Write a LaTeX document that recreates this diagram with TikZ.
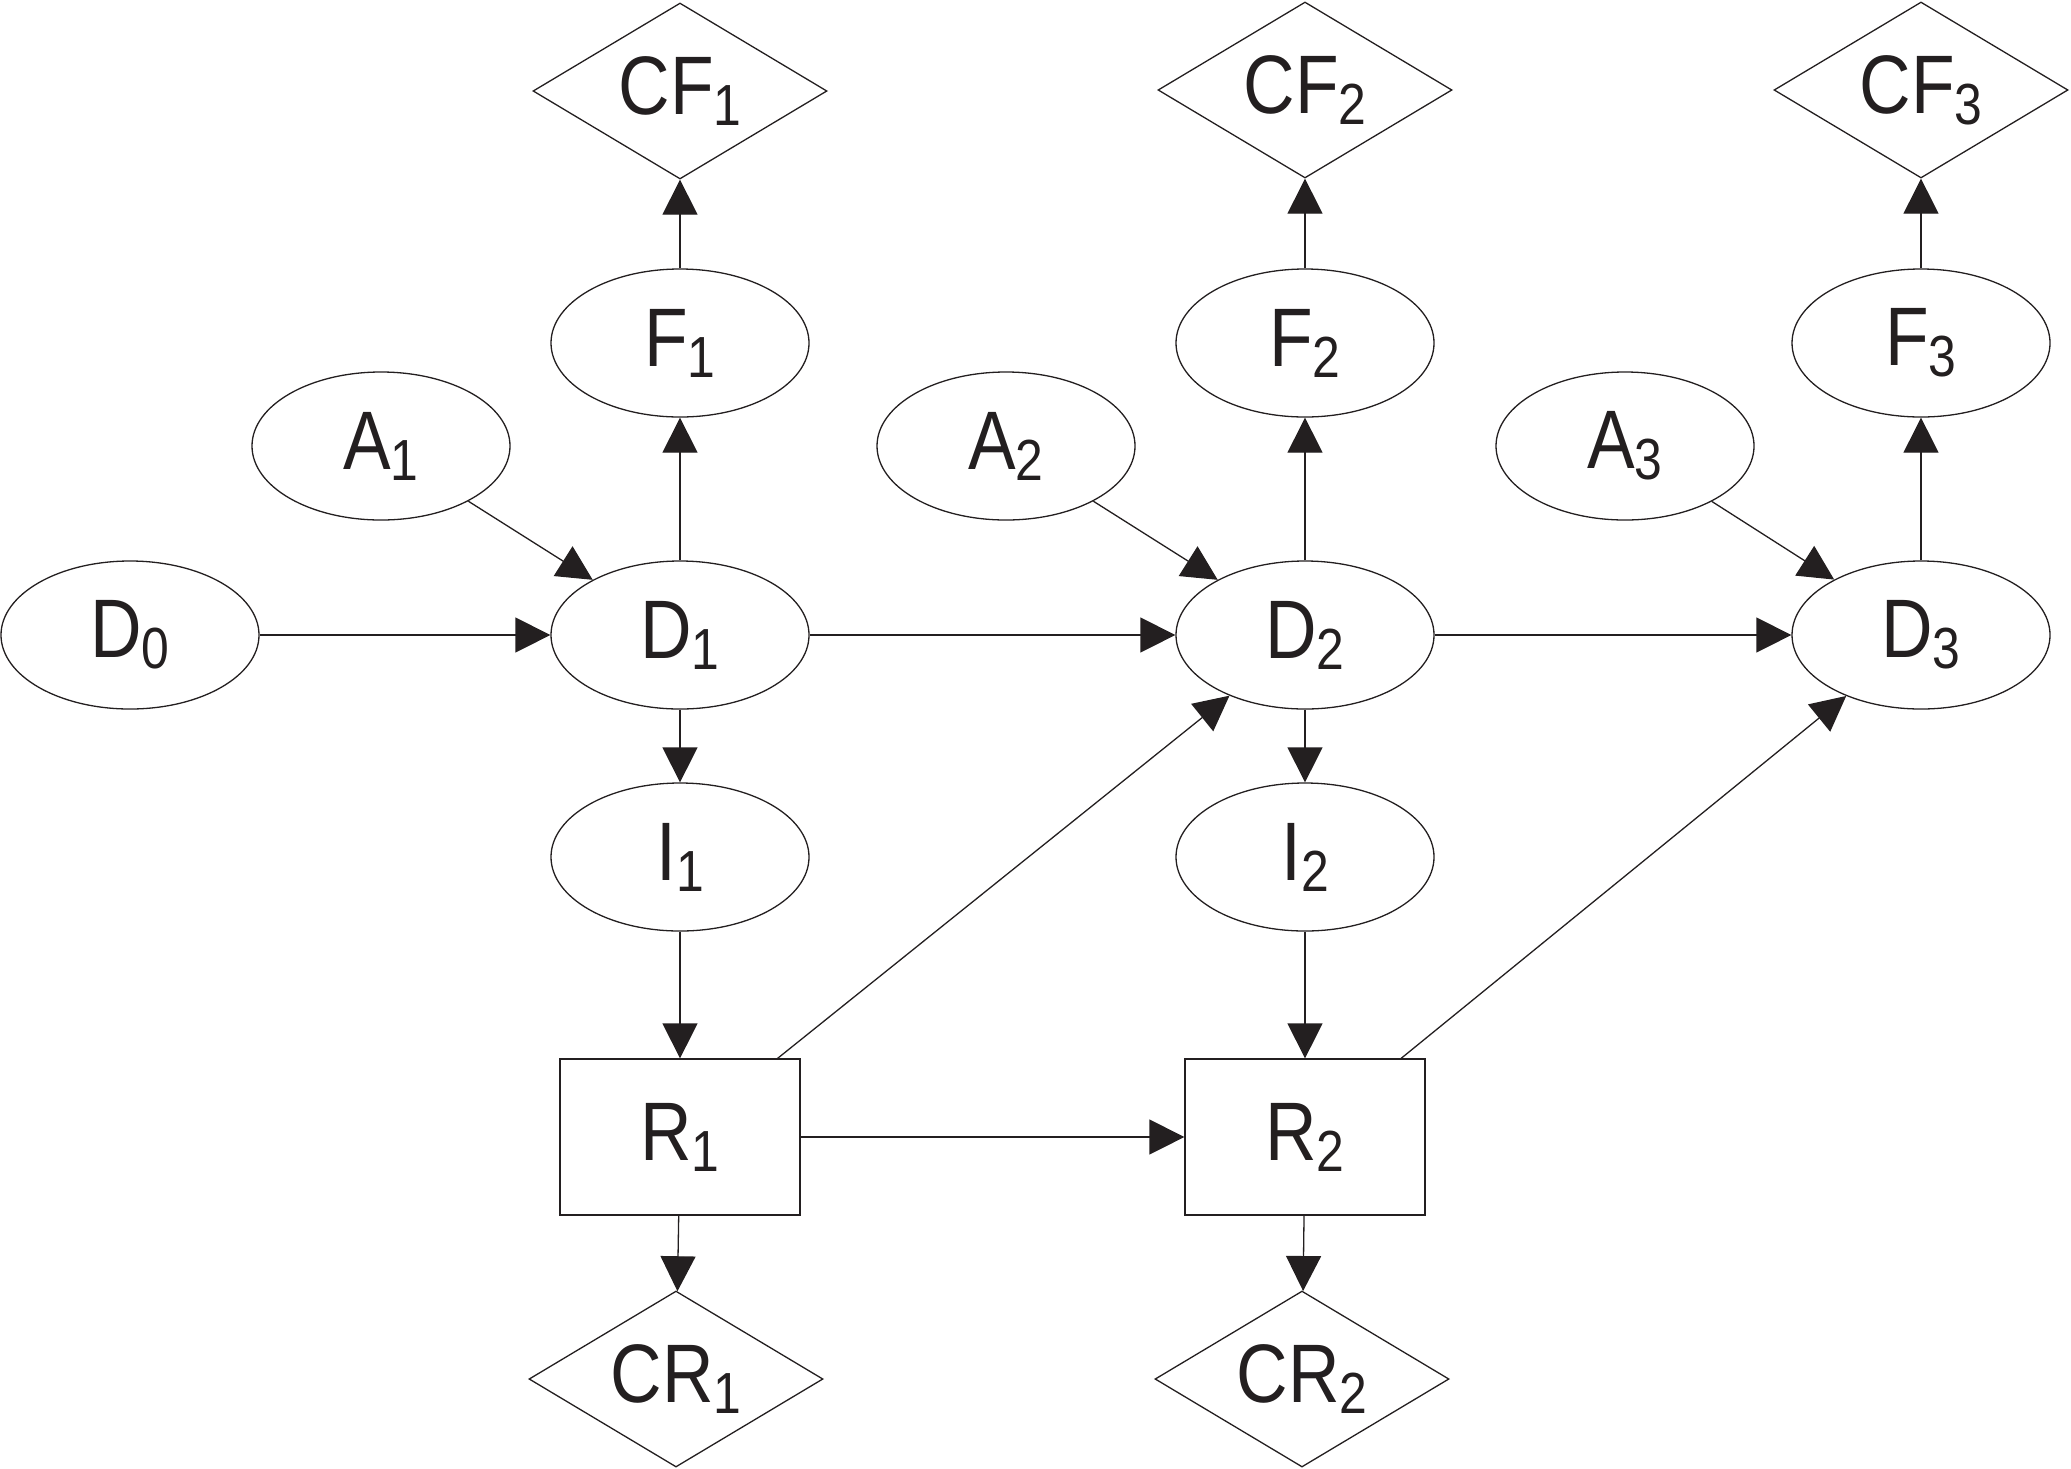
\documentclass[tikz,border=0pt]{standalone}
\usepackage{fontspec}
\newfontfamily\labfont[FakeStretch=0.86]{Liberation Sans}
\usetikzlibrary{shapes.geometric,arrows.meta}
\newcommand\lbl[2]{#1\raisebox{-11pt}{\fontsize{58}{58}\selectfont #2}}
\definecolor{ink}{RGB}{35,31,32}
\begin{document}
\begin{tikzpicture}[x=1pt,y=-1pt,
  every node/.style={font=\labfont\fontsize{83}{90}\selectfont, text=ink, draw=ink, line width=1.3pt, inner sep=0pt},
  oval/.style={ellipse, minimum width=258pt, minimum height=148pt},
  gem/.style={diamond, aspect=1.67, minimum width=294pt, minimum height=176pt},
  box/.style={rectangle, minimum width=240pt, minimum height=156pt},
  link/.style={draw=ink, line width=1.3pt, -{Triangle[length=35pt,width=35pt]}}]
\useasboundingbox (0,0) rectangle (2071,1468);
% top row
\node[gem] (CF1) at (680,91) {\lbl{CF}{1}};
\node[gem] (CF2) at (1305,90) {\lbl{CF}{2}};
\node[gem] (CF3) at (1921,90) {\lbl{CF}{3}};
\node[oval] (F1) at (680,343) {\lbl{F}{1}};
\node[oval] (F2) at (1305,343) {\lbl{F}{2}};
\node[oval] (F3) at (1921,343) {\lbl{F}{3}};
\node[oval] (A1) at (381,446) {\lbl{A}{1}};
\node[oval] (A2) at (1006,446) {\lbl{A}{2}};
\node[oval] (A3) at (1625,446) {\lbl{A}{3}};
\node[oval] (D0) at (130,635) {\lbl{D}{0}};
\node[oval] (D1) at (680,635) {\lbl{D}{1}};
\node[oval] (D2) at (1305,635) {\lbl{D}{2}};
\node[oval] (D3) at (1921,635) {\lbl{D}{3}};
\node[oval] (I1) at (680,857) {\lbl{I}{1}};
\node[oval] (I2) at (1305,857) {\lbl{I}{2}};
\node[box] (R1) at (680,1137) {\lbl{R}{1}};
\node[box] (R2) at (1305,1137) {\lbl{R}{2}};
\node[gem] (CR1) at (676,1379) {\lbl{CR}{1}};
\node[gem] (CR2) at (1302,1379) {\lbl{CR}{2}};
% connectors
\draw[link] (D0) -- (D1);
\draw[link] (D1) -- (D2);
\draw[link] (D2) -- (D3);
\draw[link] (A1) -- (D1);
\draw[link] (A2) -- (D2);
\draw[link] (A3) -- (D3);
\draw[link] (D1) -- (F1);
\draw[link] (D2) -- (F2);
\draw[link] (D3) -- (F3);
\draw[link] (F1) -- (CF1);
\draw[link] (F2) -- (CF2);
\draw[link] (F3) -- (CF3);
\draw[link] (D1) -- (I1);
\draw[link] (D2) -- (I2);
\draw[link] (I1) -- (R1);
\draw[link] (I2) -- (R2);
\draw[link] (R1) -- (R2);
\draw[link] (R1) -- (D2);
\draw[link] (R2) -- (D3);
\draw[link] (R1) -- (CR1);
\draw[link] (R2) -- (CR2);
\end{tikzpicture}
\end{document}
